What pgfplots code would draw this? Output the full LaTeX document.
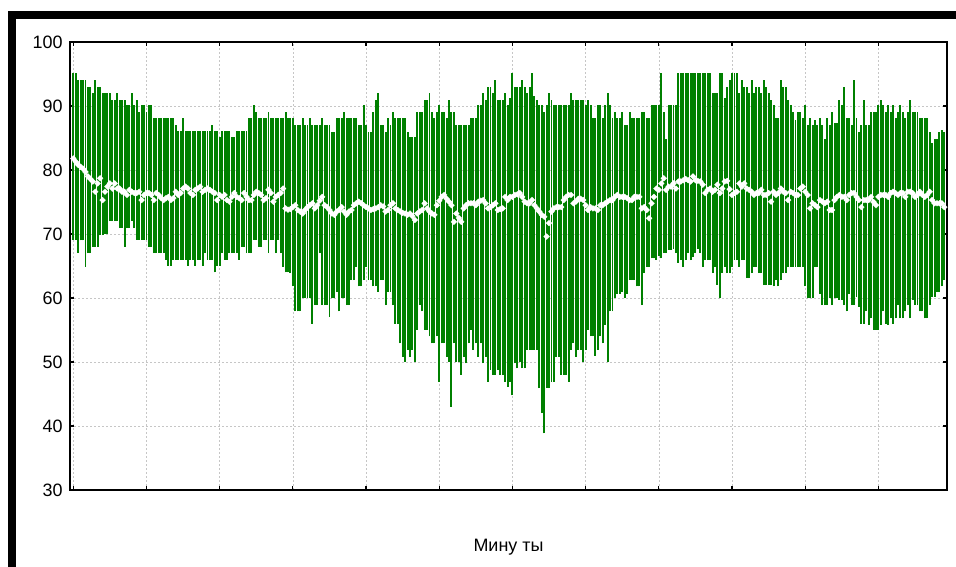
\documentclass[border=0pt]{standalone}
\usepackage{fontspec}
\setmainfont{Liberation Sans}
\usepackage{pgfplots}
\usepackage{pgfplotstable}
\pgfplotsset{compat=1.18}
\definecolor{bargreen}{RGB}{0,128,0}
\pgfplotstableread{
x hi lo m
0 95.1 69.1 81.8
1 95.1 69.1 81.3
2 94 67 80.8
3 94 69 80.5
4 94 69 80.2
5 94 64.9 79.7
6 93 67 79.0
7 93 67 78.6
8 92 68 78.2
9 94 68 76.6
10 93 68 77.9
11 93 69.8 78.7
12 92 69.8 75.3
13 92 70 76.6
14 92 70 77.4
15 92 72 77.9
16 91 72 77.1
17 91 72 77.9
18 92 72 77.1
19 91 70.9 77.1
20 91 71 76.6
21 91 68 76.6
22 90.2 70.9 76.1
23 90.2 70.9 76.9
24 92 72 76.6
25 90.2 70.9 76.4
26 91 69.1 76.4
27 89.1 69.1 76.6
28 90.2 69.1 75.3
29 90.2 69.1 76.1
30 89.1 69.1 76.4
31 90.2 68 76.4
32 90.2 68 76.1
33 88.1 67 75.3
34 88.1 67 76.4
35 88.1 67 76.1
36 88.1 67 75.6
37 88.1 67 75.3
38 88.1 66 75.6
39 88.1 65 75.8
40 88.1 65 75.3
41 88.1 66 75.6
42 87 66 76.6
43 86.1 66 76.1
44 86.1 66 76.4
45 88.1 66 77.1
46 86.1 66 77.4
47 86.1 65 77.1
48 86.1 66 76.4
49 86.1 66 76.1
50 86.1 65 76.9
51 86.1 66 77.1
52 86.1 66 77.4
53 86.1 65 76.6
54 86.1 67 76.9
55 86.1 66 77.1
56 86.1 66 76.9
57 87 66 76.6
58 86.1 64 76.4
59 86.1 65 75.3
60 85.1 65 76.1
61 86.1 67 75.8
62 86.1 66 76.1
63 86.1 66 75.3
64 86.1 67 75.05
65 85.1 67 75.8
66 85.1 67 76.4
67 86.1 67 75.8
68 86.1 66 75.6
69 86.1 68 75.3
70 86.1 68 76.4
71 86.1 67 75.8
72 88.1 67 75.3
73 88.1 67 75.3
74 90.2 69.1 76.1
75 89.1 69.1 76.6
76 88.1 68 76.4
77 88.1 68 76.1
78 88.1 69.1 75.3
79 88.1 69.1 75.6
80 89.1 67 76.9
81 88.1 69.1 76.4
82 88.1 69.1 75.05
83 88.1 67 75.8
84 88.1 69.1 76.1
85 88.1 67 76.4
86 88.1 64.9 77.1
87 89.1 64 74.0
88 88.1 64 73.8
89 88.1 63.9 73.9
90 88.1 61.8 74.2
91 87 57.9 74.5
92 87 57.9 73.75
93 87 57.9 73.5
94 88.1 60 73.2
95 87 60 73.75
96 87 60 74.2
97 88.1 60 74.5
98 87 56 74.8
99 87 58.9 74.0
100 87 58.9 74.5
101 87 67 75.2
102 88.1 58.9 75.8
103 87 58.9 74.5
104 87 58.9 74.2
105 87 57.1 73.75
106 86 59.95 73.2
107 86 59.95 73.0
108 88.1 61 73.5
109 88.1 57.9 73.8
110 88.1 59.95 74.2
111 89.1 59.95 73.5
112 88.1 58.9 73.0
113 88.1 58.9 73.5
114 88.1 62.8 73.75
115 88.1 62.8 74.5
116 88.1 64.9 74.8
117 87 61.8 75.05
118 87 61.8 74.8
119 90.2 62.8 74.5
120 87 64.9 74.2
121 86 62.8 74.0
122 86 62.8 73.75
123 89.1 61.8 73.9
124 91 61.8 74.0
125 92 61 74.2
126 87 62.8 74.5
127 87 62.8 74.3
128 86 58.9 73.5
129 88.1 61 73.75
130 87 61 74.5
131 89.1 58.9 74.8
132 88.1 56 74.0
133 88.1 56 73.75
134 88.1 52.9 73.5
135 88.1 50.8 73.3
136 88.1 50.05 73.2
137 86 51.9 73.0
138 85.1 50.8 73.2
139 85.1 51.9 72.8
140 85.1 50.05 72.2
141 89.1 55 73.2
142 89.1 58.9 73.5
143 89.1 57.9 73.75
144 91 55 74.8
145 91 55 74.0
146 92 54 73.5
147 89.1 52.9 73.2
148 88.1 52.9 73.0
149 89.1 54 74.5
150 90.2 46.9 75.2
151 89.1 52.9 75.8
152 89.1 52.9 76.1
153 88.1 50.8 75.5
154 91 50.05 75.05
155 89.1 43 74.5
156 89.1 52.9 71.9
157 87 50.05 73.2
158 87 50.05 72.5
159 87 48 71.9
160 87 50.8 74.0
161 87 49.8 74.5
162 87 52.9 74.8
163 88.1 55 74.8
164 88.1 51.9 74.8
165 88.1 52.9 74.5
166 90.2 50.8 75.05
167 90.2 52.9 75.2
168 92 49.8 75.3
169 91 50.8 74.8
170 93 46.9 74.0
171 93 48.75 74.2
172 92 48 74.5
173 94 48 74.8
174 91 48.75 73.75
175 91 48 73.9
176 91 48 74.0
177 92 46.9 75.8
178 90.2 46.1 75.3
179 91.2 46.9 75.8
180 95.1 44.8 75.8
181 93 49.8 76.1
182 93 49 76.2
183 93 50.05 76.4
184 94.1 49 75.8
185 93 49 75.05
186 92 51.9 74.8
187 93 51.9 74.8
188 95.1 51.9 75.3
189 91.5 51.9 74.5
190 91 51.9 74.0
191 90.2 45.9 73.5
192 90.2 42 73.0
193 89.1 38.85 72.7
194 90.2 45.9 69.6
195 92 45.9 71.7
196 91 46.9 73.5
197 90.2 46.9 74.0
198 90.2 50.8 74.2
199 90.2 50.8 74.2
200 90.2 48 74.2
201 90.2 48 75.3
202 90.2 48 75.8
203 90.2 46.9 76.1
204 92 51.9 76.1
205 91 52.9 74.8
206 91 50.8 75.05
207 91 51.9 75.5
208 91 51.9 75.5
209 91 50.05 75.3
210 90.2 51.9 74.5
211 91 55 73.75
212 90.2 54 74.2
213 88.1 54 74.0
214 88.1 51.0 74.0
215 90.2 51.9 73.75
216 90.2 54 74.5
217 88.1 52.9 74.5
218 90.2 55.8 74.8
219 92 50.05 75.05
220 90.2 57.9 75.3
221 88.1 57.9 75.3
222 89.1 59.95 75.8
223 88.1 60.7 76.1
224 88.1 60.7 75.8
225 89.1 61 75.8
226 87 59.95 75.8
227 87 60.7 75.6
228 89.1 62.8 75.3
229 88.1 62.8 75.3
230 88.1 62.8 75.8
231 88.1 61.8 75.8
232 88.1 61.8 75.8
233 89.1 58.9 74.0
234 89.1 63.9 74.2
235 88.1 64.9 73.75
236 88.1 64.9 72.45
237 90.2 66.2 74.8
238 90.2 66.2 75.8
239 90.2 66 77.1
240 90.2 66.6 76.9
241 95.1 66.2 77.9
242 89.1 67 78.7
243 84.9 67 76.9
244 90.2 67.5 77.4
245 90.2 67.5 77.4
246 90.2 67.7 77.9
247 90.2 67 77.1
248 95.1 65.5 78.2
249 95.1 65.9 78.2
250 95.1 64.9 78.4
251 95.1 66 78.6
252 95.1 67 78.4
253 95.1 65.9 78.2
254 95.1 66.4 79.0
255 95.1 67 78.4
256 95.1 67.7 78.3
257 95.1 67 78.2
258 95.1 64.9 77.7
259 95.1 65.9 76.4
260 95.1 65.9 76.9
261 95.1 65.9 77.1
262 92 63.9 76.6
263 92 64.9 76.9
264 92 62.1 77.7
265 95.1 59.95 76.4
266 95.1 63.9 77.1
267 91.2 64.9 78.2
268 93 63.9 78.3
269 94 63.9 77.0
270 95.1 64.9 76.1
271 95.1 65.9 76.4
272 95.1 65.9 76.6
273 92 64.9 77.9
274 94 65.9 77.4
275 93 65.9 77.9
276 93 63.1 77.1
277 92 63.1 76.9
278 94 63.9 76.6
279 92 64.9 76.1
280 93 64.9 76.4
281 93 63.9 76.4
282 92 63.9 76.9
283 94 62 76.1
284 93 62 76.1
285 92 62 76.4
286 91 62 75.05
287 90.2 61.8 76.6
288 88.1 62.8 76.1
289 88.1 61.8 76.4
290 94 62.8 77.1
291 93 63.9 76.6
292 93 63.9 76.4
293 91 64.9 75.3
294 90.2 64.9 76.6
295 89.1 64.9 76.4
296 87.8 64.9 76.1
297 89.1 64.9 76.1
298 89.1 64.9 77.1
299 88.1 64.9 77.4
300 90.2 61.8 76.6
301 87 59.95 76.1
302 88.1 59.95 74.0
303 87 59.95 74.8
304 87.8 64.9 74.5
305 87 64.9 74.2
306 88.1 60.7 75.3
307 87 58.9 75.05
308 84.9 58.9 74.8
309 88.1 58.9 75.05
310 87 59.95 73.75
311 89.1 58.9 73.75
312 87.3 59.95 75.3
313 87.3 59.95 75.8
314 91 59.7 76.1
315 90.2 59.7 75.8
316 93 58.9 75.8
317 88.1 57.9 75.3
318 88.1 60.7 76.1
319 87 58.9 76.4
320 94 58.9 76.4
321 88.1 60.2 75.8
322 86 58.6 75.3
323 87 56 74.2
324 91 56 75.3
325 87 57.9 75.3
326 87 55.8 75.3
327 89.1 56.8 75.8
328 89.1 55 75.0
329 89.1 55 74.5
330 90.2 55 75.8
331 91 55.8 76.1
332 90.2 57.9 76.1
333 89.1 56 76.1
334 90.2 55.8 75.8
335 89.1 56.8 76.4
336 90.2 56 76.6
337 88.1 56.8 76.4
338 89.1 58.9 76.1
339 90.2 56.8 76.4
340 89.1 56.8 76.4
341 88.1 57.9 75.8
342 89.1 58.9 76.6
343 91 56.8 76.6
344 89.1 59.7 76.4
345 89.1 58.9 75.8
346 89.1 58.9 76.1
347 88.1 57.9 76.6
348 88.1 57.9 76.1
349 88.1 56.8 75.8
350 88.1 56.8 76.1
351 86 58.9 76.6
352 84.2 60.2 75.3
353 84.9 60.2 74.8
354 84.9 61 74.8
355 86 61 74.8
356 86.3 61.8 74.8
357 86 62.8 74.2
}\data
\begin{document}
\begin{tikzpicture}
\path[use as bounding box] (0,0) rectangle (956bp,567bp);
\fill[black] (8bp,548bp) rectangle (956bp,556bp);
\fill[black] (8bp,0) rectangle (16bp,556bp);
\begin{axis}[
  at={(70bp,77bp)}, anchor=south west,
  scale only axis, width=877bp, height=448bp,
  xmin=-1.35, xmax=358.1, ymin=30, ymax=100,
  xtick={0,30,...,330}, xticklabels={},
  ytick={30,40,...,100},
  grid=major,
  major grid style={gray!45, line width=0.6bp, dash pattern=on 2bp off 2bp},
  tick align=inside, major tick length=4bp,
  every tick/.style={black, line width=1.2bp},
  axis line style={black, line width=1.2bp},
  yticklabel style={font=\fontsize{18}{18}\selectfont, xshift=-4bp},
  /pgf/number format/assume math mode=true,
]
\addplot[draw=none, mark=none, error bars/.cd, y dir=plus, y explicit, error mark=none,
  error bar style={draw=bargreen, line width=1.95bp}]
  table[x=x, y=lo, y error plus expr=\thisrow{hi}-\thisrow{lo}] {\data};
\addplot[only marks, mark=square*, mark size=2.1bp, mark options={rotate=45, fill=white, draw=white, line width=0.2bp}]
  table[x=x, y=m] {\data};
\end{axis}
\node[font=\fontsize{18}{18}\selectfont] at (508.5bp,20bp) {Мину ты};
\end{tikzpicture}
\end{document}
